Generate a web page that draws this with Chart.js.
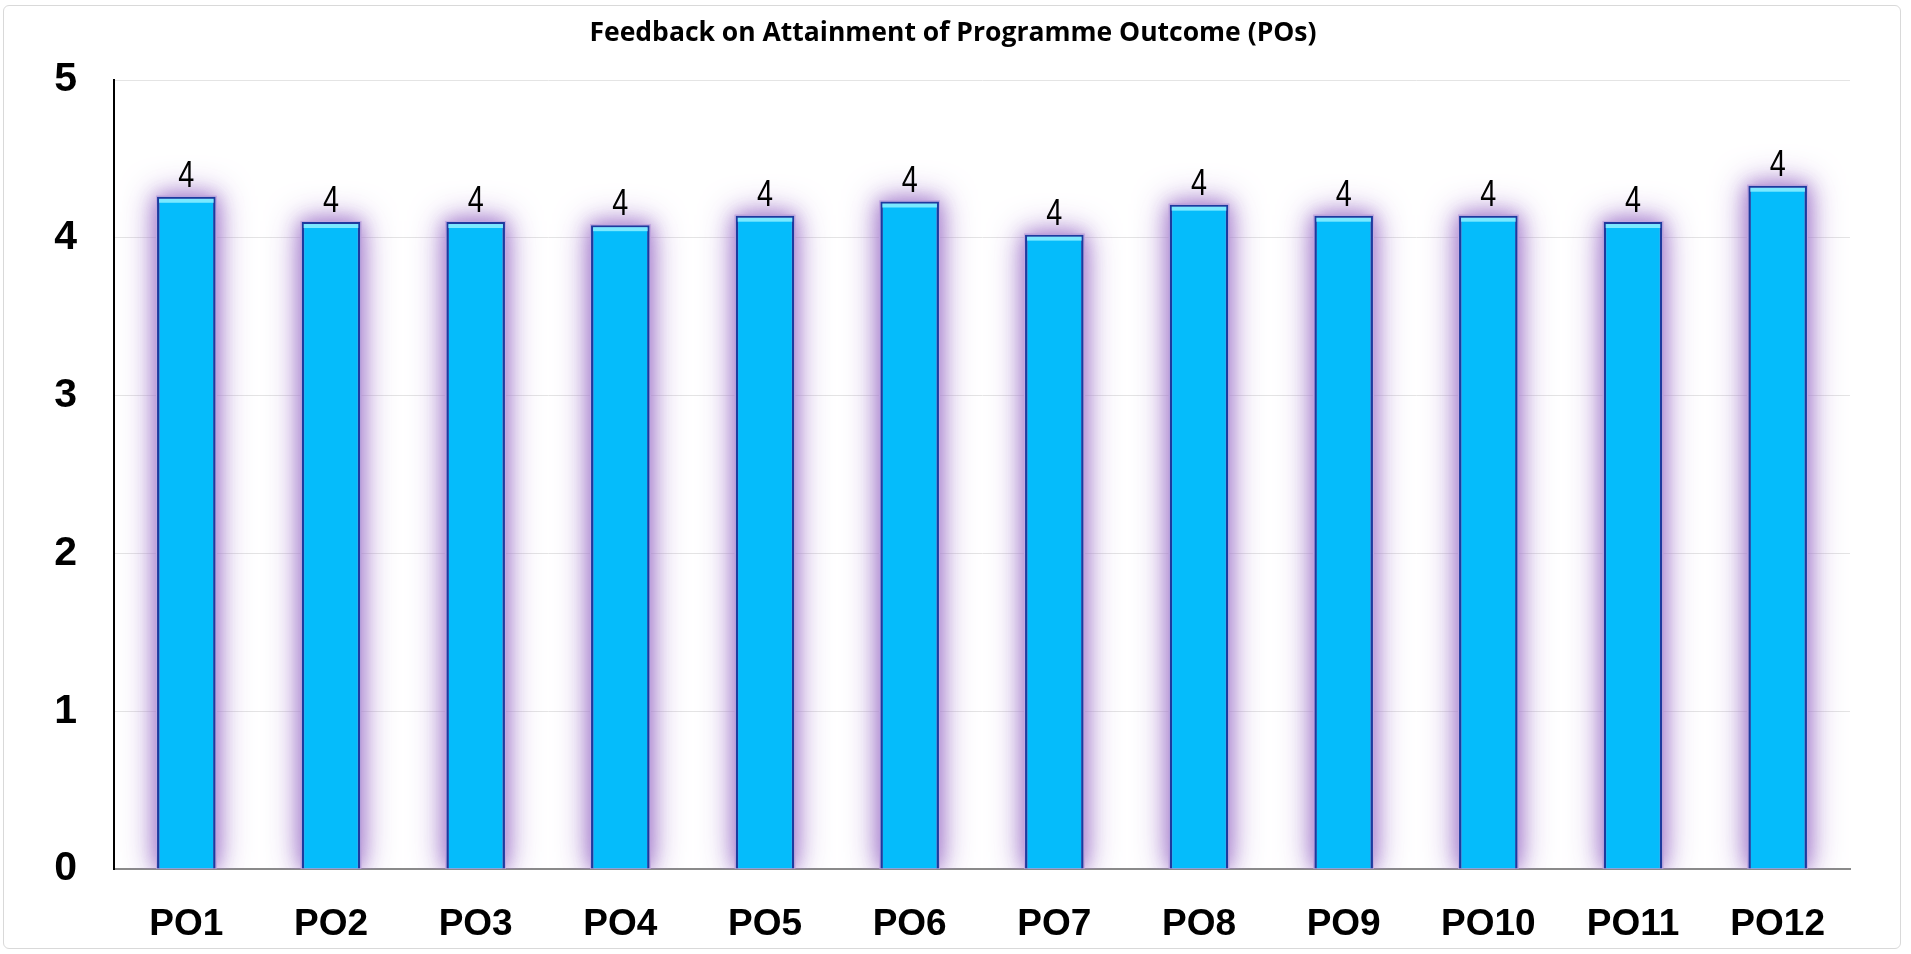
<!DOCTYPE html>
<html>
<head>
<meta charset="utf-8">
<script src="https://cdn.jsdelivr.net/npm/chart.js@4/dist/chart.umd.min.js"></script>
<style>
  html, body { margin: 0; padding: 0; background: #ffffff; }
  #frame { position: absolute; left: 3px; top: 5px; width: 1898px; height: 944px; border: 1px solid #d9d9d9; border-radius: 6px; box-sizing: border-box; }
  #wrap { position: absolute; left: 0; top: 0; width: 1911px; height: 954px; }
</style>
</head>
<body>
<div id="frame"></div>
<div id="wrap"><canvas id="c" width="1911" height="954"></canvas></div>
<script>
const categories = ['PO1','PO2','PO3','PO4','PO5','PO6','PO7','PO8','PO9','PO10','PO11','PO12'];
const values = [4.26, 4.10, 4.10, 4.08, 4.14, 4.23, 4.02, 4.21, 4.14, 4.14, 4.10, 4.33];
const yTicks = [0, 1, 2, 3, 4, 5];
const titleText = 'Feedback on Attainment of Programme Outcome (POs)';

const SANS = "'Liberation Sans', Arial, sans-serif";

const glowPlugin = {
  id: 'glow',
  beforeDatasetsDraw(chart) {
    const ctx = chart.ctx;
    const meta = chart.getDatasetMeta(0);
    const area = chart.chartArea;
    ctx.save();
    ctx.beginPath();
    ctx.rect(area.left + 1, area.top - 40, area.right - area.left, area.bottom - area.top + 40);
    ctx.clip();
    ctx.fillStyle = 'rgba(195, 170, 225, 1)';
    [34, 18].forEach((blur) => {
      ctx.shadowColor = 'rgba(165, 125, 205, 0.9)';
      ctx.shadowBlur = blur;
      meta.data.forEach((bar) => {
        const w = bar.width;
        ctx.fillRect(bar.x - w / 2 - 1, bar.y - 1, w + 2, bar.base - bar.y + 1);
      });
    });
    ctx.restore();
  },
  afterDatasetsDraw(chart) {
    const ctx = chart.ctx;
    const meta = chart.getDatasetMeta(0);
    ctx.save();
    // top highlight bevel
    meta.data.forEach((bar) => {
      const w = bar.width;
      ctx.fillStyle = 'rgba(130, 235, 255, 0.95)';
      ctx.fillRect(bar.x - w / 2 + 2, bar.y + 2, w - 4, 4);
    });
    // value labels (condensed)
    ctx.fillStyle = '#000000';
    ctx.font = '36px ' + SANS;
    ctx.textAlign = 'center';
    ctx.textBaseline = 'alphabetic';
    meta.data.forEach((bar, i) => {
      const v = chart.data.datasets[0].data[i];
      ctx.save();
      ctx.translate(bar.x, bar.y - 10);
      ctx.scale(0.8, 1);
      ctx.fillText(String(Math.round(v)), 0, 0);
      ctx.restore();
    });
    ctx.restore();
  },
  afterDraw(chart) {
    const ctx = chart.ctx;
    ctx.save();
    ctx.fillStyle = '#000000';
    ctx.font = "bold 26.5px 'Open Sans', sans-serif";
    ctx.textAlign = 'center';
    ctx.textBaseline = 'middle';
    ctx.fillText(titleText, 953, 33);
    ctx.restore();
  }
};

new Chart(document.getElementById('c'), {
  type: 'bar',
  data: {
    labels: categories,
    datasets: [{
      data: values,
      backgroundColor: '#05BCFB',
      borderColor: '#1D3A9E',
      borderWidth: 2.5,
      barPercentage: 0.81,
      categoryPercentage: 0.5
    }]
  },
  options: {
    responsive: false,
    animation: false,
    devicePixelRatio: 1,
    layout: { padding: { left: 0, right: 61, top: 80, bottom: 0 } },
    plugins: {
      legend: { display: false },
      tooltip: { enabled: false },
      title: { display: false }
    },
    scales: {
      x: {
        grid: { display: false, drawTicks: false },
        border: { display: true, color: '#8a8a8a', width: 2 },
        ticks: {
          color: '#000000',
          font: { family: SANS, size: 37, weight: 'bold' },
          padding: 34,
          maxRotation: 0
        },
        afterFit(scale) { scale.height = 85; }
      },
      y: {
        min: 0,
        max: 5,
        afterBuildTicks(scale) { scale.ticks = yTicks.map(v => ({ value: v })); },
        grid: { color: '#e4e4e4', lineWidth: 1, drawTicks: false },
        border: { display: true, color: '#000000', width: 2 },
        ticks: {
          color: '#000000',
          font: { family: SANS, size: 41, weight: 'bold' },
          padding: 37
        },
        afterFit(scale) { scale.width = 114; }
      }
    }
  },
  plugins: [glowPlugin]
});
</script>
</body>
</html>
